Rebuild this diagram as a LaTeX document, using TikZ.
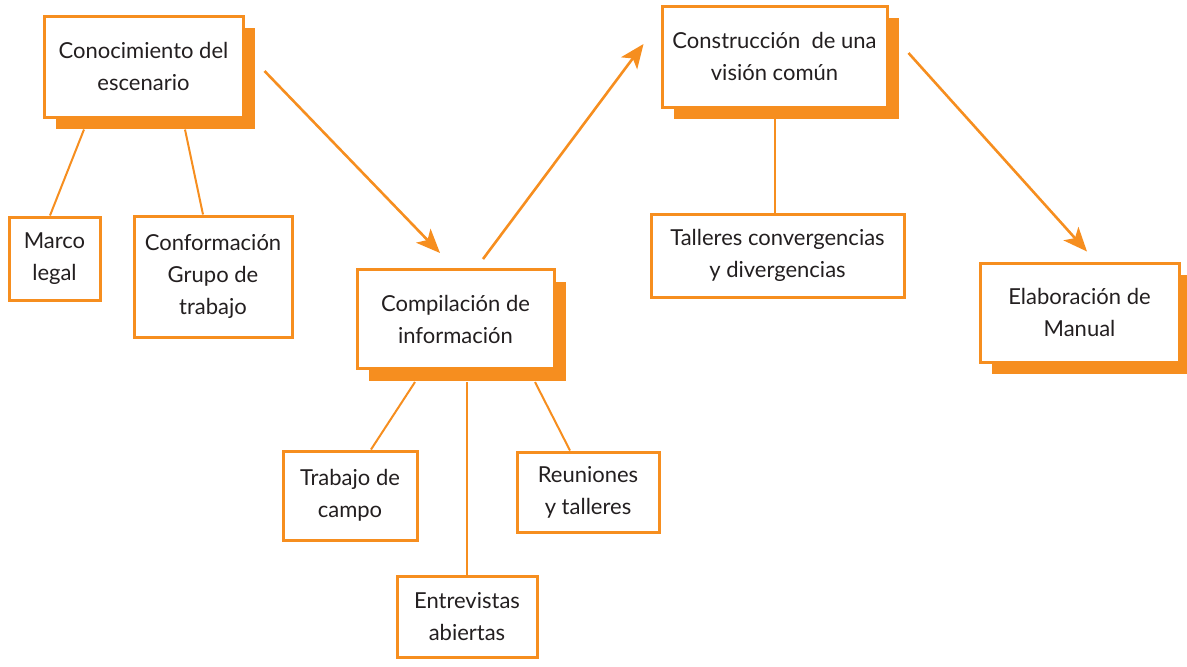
\documentclass[tikz,border=0pt]{standalone}
\usepackage{fontspec}
\setmainfont{Lato}
\usetikzlibrary{arrows.meta, shadows}
\definecolor{mapaorange}{RGB}{246,142,31}
\definecolor{mapatext}{RGB}{35,31,32}
\tikzset{
  caja/.style={draw=mapaorange, line width=1.5pt, fill=white, align=center, text=mapatext, inner sep=0pt, font=\fontsize{11}{16}\selectfont},
  tema/.style={caja, drop shadow={shadow xshift=6pt, shadow yshift=-6pt, fill=mapaorange, opacity=1}},
  enlace/.style={draw=mapaorange, line width=1pt},
  flecha/.style={draw=mapaorange, line width=1.3pt, -{Stealth[length=12pt, width=10pt, inset=3pt]}}
}

\begin{document}
\begin{tikzpicture}[x=0.5pt, y=-0.5pt]
  \useasboundingbox (0,0) rectangle (1187,666);

  \node[tema, minimum width=99.5pt, minimum height=50.5pt] (conoc) at (143.5,66.5) {Conocimiento del\\escenario};
  \node[tema, minimum width=98.5pt, minimum height=49.5pt] (compil) at (455.5,319) {Compilación de\\información};
  \node[tema, minimum width=112.5pt, minimum height=50.5pt] (constr) at (774.5,56.5) {Construcción\ \ de una\\visión común};
  \node[tema, minimum width=99.5pt, minimum height=49.5pt] (elab) at (1079.5,312.5) {Elaboración de\\Manual};

  \node[caja, minimum width=45.5pt, minimum height=41.5pt] (marco) at (54.5,258.5) {Marco\\legal};
  \node[caja, minimum width=79pt, minimum height=60.5pt] (grupo) at (213,276.5) {Conformación\\Grupo de\\trabajo};
  \node[caja, minimum width=67pt, minimum height=44.5pt] (campo) at (350,495.5) {Trabajo de\\campo};
  \node[caja, minimum width=70pt, minimum height=40.5pt] (entrev) at (467,616.5) {Entrevistas\\abiertas};
  \node[caja, minimum width=71pt, minimum height=40pt] (reun) at (588,492) {Reuniones\\y talleres};
  \node[caja, minimum width=126.5pt, minimum height=41.5pt] (taller) at (777.5,255.5) {Talleres convergencias\\y divergencias};

  \draw[enlace] ([shift={(-59.5,11)}]conoc.south) -- ([shift={(-4.5,0)}]marco.north);
  \draw[enlace] ([shift={(41.5,11)}]conoc.south) -- ([shift={(-10,0)}]grupo.north);
  \draw[enlace] ([shift={(-40.5,12)}]compil.south) -- ([shift={(21,0)}]campo.north);
  \draw[enlace] ([shift={(11.5,12)}]compil.south) -- (entrev.north);
  \draw[enlace] ([shift={(79.5,12)}]compil.south) -- ([shift={(-18,0)}]reun.north);
  \draw[enlace] ([shift={(0.5,10)}]constr.south) -- ([shift={(-2.5,0)}]taller.north);

  \draw[flecha] ([shift={(20,4.5)}]conoc.east) -- ([shift={(-15.5,-15)}]compil.north);
  \draw[flecha] ([shift={(27.5,-9)}]compil.north) -- ([shift={(-17,-12.5)}]constr.west);
  \draw[flecha] ([shift={(20,-3.5)}]constr.east) -- ([shift={(7.5,-10)}]elab.north);
\end{tikzpicture}
\end{document}
